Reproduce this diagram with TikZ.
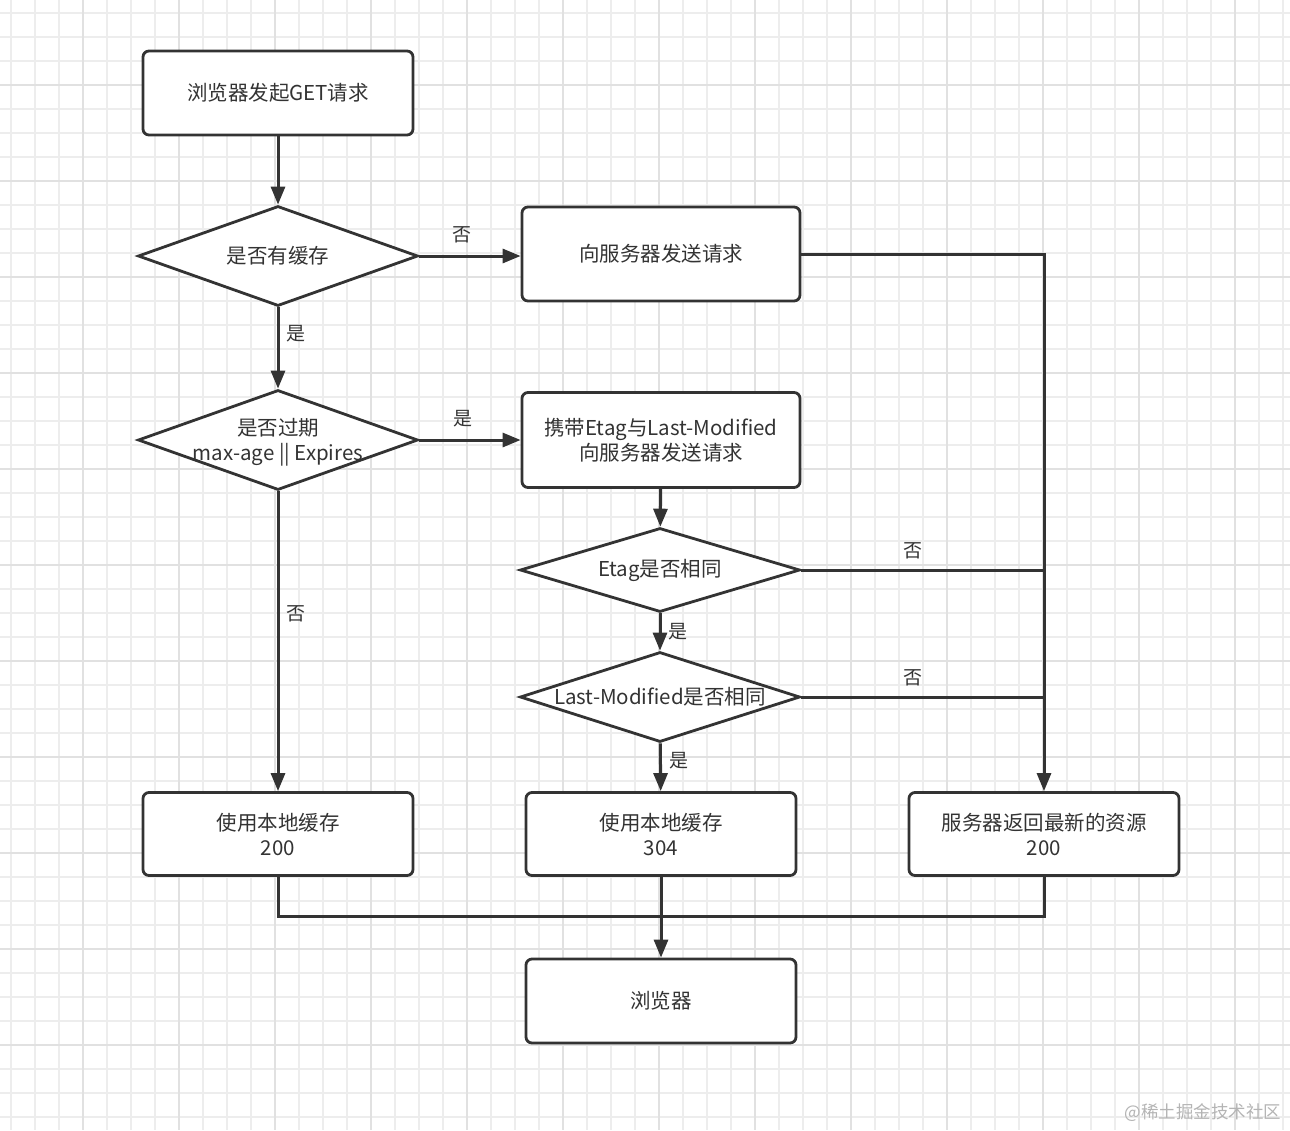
\documentclass[tikz,border=0pt]{standalone}
\usepackage{fontspec}
\setmainfont{Noto Sans CJK SC}
\usepackage{tikz}
\usetikzlibrary{shapes.geometric,arrows.meta}
\definecolor{FlowLine}{RGB}{51,51,51}
\definecolor{FlowGridMinor}{RGB}{237,237,237}
\definecolor{FlowGridMajor}{RGB}{225,225,225}
\definecolor{FlowMark}{RGB}{180,180,180}

\begin{document}
\begin{tikzpicture}[x=1pt,y=-1pt,font=\fontsize{20.5}{25}\selectfont,text=FlowLine,
  proc/.style n args={2}{draw=FlowLine,line width=2.8pt,rounded corners=6pt,fill=white,minimum width=#1pt,minimum height=#2pt,inner sep=0pt,align=center},
  decide/.style n args={2}{diamond,draw=FlowLine,line width=2.8pt,fill=white,minimum width=#1pt,minimum height=#2pt,inner sep=0pt},
  ln/.style={draw=FlowLine,line width=3pt},
  arr/.style={ln,-{Triangle[length=18pt,width=14pt]}},
  lbl/.style={font=\fontsize{19}{22}\selectfont}]
\useasboundingbox (0,0) rectangle (1290,1130);
\fill[white] (0,0) rectangle (1290,1130);
\foreach \x in {11,35,...,1290} {
   \draw[FlowGridMinor,line width=1.2pt] (\x,0) -- (\x,1130);
}
\foreach \y in {13,37,...,1130} {
   \draw[FlowGridMinor,line width=1.2pt] (0,\y) -- (1290,\y);
}
\foreach \x in {83,179,...,1290} {
   \draw[FlowGridMajor,line width=1.8pt] (\x,0) -- (\x,1130);
}
\foreach \y in {85,181,...,1130} {
   \draw[FlowGridMajor,line width=1.8pt] (0,\y) -- (1290,\y);
}

\node[proc={270}{84}] (get) at (278,93) {浏览器发起GET请求};
\node[decide={280}{100},label={center:是否有缓存}] (hascache) at (278,256) {};
\node[proc={278}{94}] (askreq) at (661,254) {向服务器发送请求};
\node[decide={280}{100},label={[align=center,yshift=-2pt]center:{是否过期\\max-age || Expires}}] (expired) at (278,440) {};
\node[proc={278}{95}] (condreq) at (661,440) {携带Etag与Last-Modified\\向服务器发送请求};
\node[decide={280}{84},label={center:Etag是否相同}] (etag) at (660,570) {};
\node[decide={280}{90},label={center:Last-Modified是否相同}] (lastmod) at (660,697) {};
\node[proc={270}{83}] (use200) at (278,834) {使用本地缓存\\200};
\node[proc={270}{83}] (use304) at (661,834) {使用本地缓存\\304};
\node[proc={270}{83}] (fresh) at (1044,834) {服务器返回最新的资源\\200};
\node[proc={270}{84}] (browser) at (661,1001) {浏览器};

\draw[arr] (get) -- (hascache);
\draw[arr] (hascache.east) -- node[lbl,pos=0.42,above=8pt] {否} (hascache.east -| askreq.west);
\draw[arr] (hascache) -- node[lbl,pos=0.32,right=4pt] {是} (expired);
\draw[arr] (expired.east) -- node[lbl,pos=0.43,above=8pt] {是} (expired.east -| condreq.west);
\draw[arr] (expired) -- node[lbl,pos=0.41,right=4pt] {否} (use200);
\draw[arr] (askreq.east) -| (fresh.north);
\draw[arr] (condreq) -- (etag);
\draw[ln] (etag.east) -- node[lbl,pos=0.46,above=6pt] {否} (etag.east -| fresh.north);
\draw[arr] (etag) -- node[lbl,pos=0.5,right=4pt] {是} (lastmod);
\draw[ln] (lastmod.east) -- node[lbl,pos=0.46,above=6pt] {否} (lastmod.east -| fresh.north);
\draw[arr] (lastmod) -- node[lbl,pos=0.36,right=4pt] {是} (use304);
\draw[ln] (use200.south) -- ++(0,40) -| (fresh.south);
\draw[arr] (use304) -- (browser);

\node[font=\fontsize{17.5}{20}\selectfont,text=FlowMark,anchor=east] (mark) at (1285,1113) {@稀土掘金技术社区};
\end{tikzpicture}
\end{document}
